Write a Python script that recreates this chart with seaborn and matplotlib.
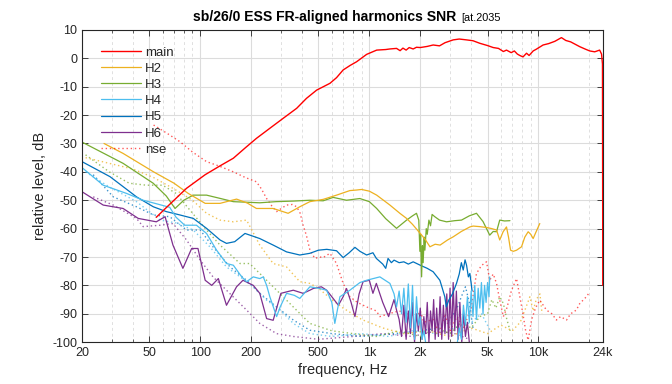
import numpy as np
import pandas as pd
import matplotlib
matplotlib.use("Agg")
import matplotlib.pyplot as plt
import seaborn as sns
from matplotlib.ticker import FixedLocator, NullFormatter

# ---------------- data (frequency Hz, level dB) ----------------
MAIN = [(55,-56),(62,-53),(70,-50),(83,-45.8),(107,-41),(130,-38),(157,-35.2),(185,-31.5),
        (215,-28.2),(260,-24.5),(310,-21.1),(372,-17.6),(425,-14.1),(488,-11.2),(585,-8.8),
        (640,-6.8),(700,-4.1),(770,-2.5),(841,-1.2),(964,1.4),(1105,2.9),(1250,3.1),(1322,3.3),
        (1448,3.5),(1520,2.7),(1580,3.6),(1650,2.9),(1720,3.8),(1816,3.3),(1900,3.9),(2000,3.8),
        (2200,4.2),(2384,4.7),(2600,4.4),(2800,5.5),(3130,6.5),(3400,6.8),(3756,6.5),(4100,6.2),
        (4500,5.3),(5000,4.5),(5400,3.8),(5800,3.5),(6200,2.4),(6470,2.9),(6900,2.0),(7200,2.6),
        (7500,1.5),(7760,1.0),(8100,0.5),(8500,1.8),(8800,1.0),(9300,2.6),(9700,3.2),(10650,4.7),
        (11500,5.2),(12500,6.0),(13670,7.3),(14500,6.3),(15500,5.8),(17550,4.1),(19000,3.2),
        (20100,2.6),(21500,2.3),(23000,2.9),(23600,1.5),(23900,-2),(24000,-80)]

H2 = [(27,-30),(35,-33.5),(53,-40),(70,-44),(85,-47.6),(107,-51.1),(131,-51.1),(164,-49.6),
      (190,-51),(215,-52.9),(270,-52.9),(331,-54.6),(388,-52.3),(445,-50.5),(533,-49.7),
      (640,-48.2),(767,-46.6),(841,-46.4),(900,-46.2),(1000,-46.8),(1105,-48.2),(1323,-51.7),
      (1515,-54.6),(1660,-56.4),(1800,-58.5),(2000,-61.7),(2150,-64),(2282,-66.4),(2450,-65.5),
      (2620,-65.8),(2900,-64),(3130,-62.9),(3500,-61),(3930,-59.4),(4110,-59.1),(4500,-59.3),
      (4930,-59.6),(5300,-60),(5650,-60.5),(5900,-64),(6180,-61.1),(6470,-59.4),(6650,-63),
      (6840,-67.6),(7100,-68),(7420,-67.6),(7940,-66.4),(8300,-63),(8690,-61.1),(9000,-62),
      (9300,-63.5),(9700,-61),(10180,-58.2)]

H3 = [(20,-29.5),(35,-37),(52.7,-44),(63,-48.5),(71,-52.9),(80,-50),(91,-48.2),(109,-48.2),
      (130,-49.3),(157,-50.5),(225,-50.9),(280,-50.5),(355,-50.3),(445,-50),(533,-50.2),
      (611,-49),(733,-50),(879,-49.4),(1000,-50.5),(1105,-52.9),(1250,-56.5),(1448,-59.9),
      (1660,-57),(1800,-55.5),(1900,-54.6),(1960,-57),(1990,-68),(2010,-62),(2037,-77),
      (2060,-66),(2080,-72),(2110,-63),(2130,-67.6),(2170,-60),(2200,-62),(2250,-57),(2300,-59),
      (2350,-55),(2437,-55.8),(2600,-57),(2860,-57.6),(3200,-57.2),(3505,-57),(3900,-55.5),
      (4300,-54.6),(4700,-57.5),(5150,-62.3),(5400,-61),(5650,-61.1),(5900,-57),(6300,-57.3),
      (6780,-57.2)]

H4 = [(20,-38.5),(26.7,-44.7),(36.7,-47.6),(46,-50),(54,-51.1),(66,-52.5),(72,-56),(81,-58.8),
      (95,-58.8),(109,-61.7),(125,-67.6),(143,-72.3),(157,-72.9),(176,-77),(188,-78.7),(206,-77),
      (225,-77.6),(236,-77),(247,-80),(258,-84),(283,-91),(297,-87.6),(324,-82.8),(360,-83.5),
      (388,-84.6),(445,-80.5),(500,-81),(559,-81.7),(600,-86),(625,-93.4),(670,-84),(767,-81.7),
      (880,-79),(964,-78.2),(1154,-77),(1323,-79.3),(1400,-83),(1448,-87.6),(1500,-82),(1550,-90),
      (1600,-81),(1650,-93),(1700,-79.5),(1750,-95),(1800,-80),(1850,-99),(1900,-84),(1950,-94),
      (2000,-91),(2050,-99),(2100,-96),(2200,-104),(2400,-106),(2700,-103),(3000,-106),
      (3300,-101),(3400,-95),(3500,-99),(3600,-87),(3700,-94),(3800,-84),(3900,-93),(4000,-82),
      (4100,-91),(4200,-80),(4300,-92),(4400,-81),(4500,-88),(4600,-79),(4700,-90),(4800,-80),
      (4900,-86),(5000,-79),(5100,-84),(5150,-77)]

H5 = [(20,-36.4),(29.3,-41.7),(42,-48.8),(52.8,-52.3),(63,-54),(76,-55.2),(91,-56.4),(109,-59.9),
      (131,-64),(143,-65.2),(160,-64.6),(184,-61.7),(225,-63.5),(270,-65.8),(324,-68.2),
      (388,-69.3),(445,-68.7),(500,-67.6),(560,-67.3),(640,-67.8),(700,-70.2),(760,-68.5),
      (822,-66.6),(880,-68),(964,-69.3),(1050,-68.5),(1100,-70.5),(1200,-72.5),(1250,-74),
      (1290,-70.5),(1350,-72),(1400,-71.1),(1500,-72),(1600,-71.7),(1700,-72.5),(1816,-71.7),
      (2000,-72.9),(2200,-74),(2384,-75.2),(2612,-78.2),(2700,-81),(2794,-84),(2850,-87.6),
      (2950,-85.2),(3100,-83),(3276,-79.3),(3400,-76),(3500,-72),(3590,-74.6),(3680,-71),
      (3756,-72.9),(3850,-77),(3930,-75.8),(4000,-79.3),(4050,-82)]

H6 = [(20,-47),(26.7,-51.7),(35,-52.9),(43,-56.4),(55,-57.6),(62,-55.8),(69,-65.8),(79,-74),
      (89,-67),(97,-67),(107,-78.2),(117,-80),(128,-77.6),(143,-87),(164,-80.5),(179,-78.2),
      (206,-80),(225,-82.8),(247,-91.7),(270,-92.3),(300,-82.8),(355,-81.7),(406,-82.8),
      (445,-81.7),(466,-81.1),(520,-80.5),(559,-81.7),(600,-84),(656,-87),(700,-84),(733,-81.1),
      (780,-86),(822,-91),(870,-83),(918,-78.7),(1000,-78.2),(1050,-82.8),(1100,-79.3),
      (1200,-86),(1300,-91),(1400,-85),(1448,-88.7),(1500,-92),(1550,-98),(1600,-87),(1650,-99),
      (1700,-89),(1750,-97),(1800,-86),(1850,-100),(1900,-90),(1950,-96),(2000,-88),(2050,-99),
      (2100,-91),(2150,-97),(2200,-86),(2250,-100),(2300,-89),(2350,-96),(2400,-85),(2450,-99),
      (2500,-88),(2560,-98),(2620,-84),(2680,-99),(2740,-87),(2800,-97),(2870,-83),(2940,-99),
      (3000,-81),(3070,-98),(3130,-79),(3200,-96),(3270,-82),(3350,-99),(3430,-86),(3520,-100),
      (3600,-90),(3700,-98),(3800,-93),(3900,-100)]

NSE = [(53,-23.5),(64,-26.5),(76,-29.4),(90,-33),(109,-36.4),(130,-38),(157,-40),(185,-42),
       (215,-43.5),(230,-46),(247,-49.4),(265,-52),(283,-54),(300,-53),(324,-51.7),(350,-51.5),
       (372,-52.3),(390,-54.6),(406,-58.8),(425,-62.5),(445,-67.5),(476,-70.5),(510,-70),
       (533,-70.2),(585,-68.7),(640,-72.3),(700,-79.3),(767,-84),(850,-86),(964,-87.6),
       (1100,-89),(1154,-91),(1300,-90),(1500,-89),(1700,-90),(1900,-91),(2000,-89),(2100,-93),
       (2384,-92),(2600,-97),(2800,-90),(3000,-96),(3300,-91),(3600,-95),(4000,-88),(4300,-75.8),
       (4600,-73),(4930,-71.7),(5150,-78.2),(5400,-76),(5650,-79.3),(5900,-85.2),(6200,-91),
       (6500,-88),(6930,-81.7),(7420,-77.6),(7760,-84),(8090,-90),(8400,-96),(8690,-99.3),
       (9100,-92.2),(9600,-88),(10180,-85.2),(11150,-88.7),(12000,-90),(12770,-92.2),
       (13500,-91),(14650,-92.2),(15500,-90),(16740,-88.7),(17500,-86.5),(18350,-85.2),
       (19200,-84),(20100,-82.3)]

H2_NSE = [(21,-35),(29,-37),(40,-39),(53,-42),(70,-46),(90,-50),(109,-54.6),(131,-57),(157,-57.6),
          (188,-57),(225,-65.8),(270,-72.3),(324,-73.5),(388,-78.7),(445,-79.3),(500,-81),
          (600,-85),(700,-88),(900,-92),(1200,-95),(1600,-97),(2200,-96),(3000,-98),(4000,-95),
          (5000,-97),(6000,-94),(7000,-96),(7800,-93),(8400,-88),(8900,-84),(9300,-89),
          (9700,-85),(10200,-83),(10500,-90)]
H3_NSE = [(21,-34),(29,-40),(38,-44),(48,-44.7),(60,-44.7),(72,-47.6),(87,-53.5),(109,-60.5),
          (131,-65.8),(172,-72.3),(196,-72.3),(225,-75.8),(283,-81.7),(355,-87.6),(445,-93.4),
          (600,-96),(800,-97),(1100,-98),(1500,-96),(2000,-98),(2500,-95),(3000,-97),(3500,-93),
          (4000,-95),(4500,-91),(5000,-90),(5300,-85),(5600,-88),(5900,-84),(6200,-86.4),
          (6500,-92),(6800,-96)]
H4_NSE = [(21,-40),(29,-45.3),(42,-50.5),(58,-57),(72,-58),(91,-60.5),(114,-66.4),(143,-73.5),
          (172,-77),(206,-80.5),(247,-85.2),(297,-88.7),(355,-93.4),(445,-97),(600,-98),
          (900,-97),(1300,-98),(1800,-96),(2500,-97),(3200,-95),(4000,-93),(4600,-90),(5200,-96)]
H5_NSE = [(23.3,-41),(30.6,-48.8),(42,-52.3),(53,-55.2),(66,-55.8),(83,-60.5),(100,-60.5),
          (119,-66.4),(150,-73.5),(188,-78.2),(225,-82.8),(283,-87.6),(355,-92.2),(445,-95.8),
          (600,-97),(900,-98),(1400,-97),(2000,-96),(2600,-95),(3000,-92),(3300,-88),(3500,-84),
          (3700,-80.5),(3900,-86),(4100,-95)]
H6_NSE = [(23.3,-48.8),(30.6,-51.7),(42,-56.4),(46,-59.3),(58,-58.8),(69,-58.2),(83,-64),
          (100,-71.1),(119,-77),(143,-81.7),(188,-88.7),(225,-93.4),(283,-97),(355,-98),
          (500,-99),(800,-98),(1200,-97),(1800,-98),(2500,-96),(3200,-97),(3900,-99)]

LABELS = ["main", "H2", "H3", "H4", "H5", "H6", "nse"]
XTICKS = [20, 50, 100, 200, 500, 1000, 2000, 5000, 10000, 24000]
XTICKLABELS = ["20", "50", "100", "200", "500", "1k", "2k", "5k", "10k", "24k"]
YTICKS = list(range(-100, 11, 10))

C_MAIN = "#ff0000"
C_H2 = "#EDB120"
C_H3 = "#77AC30"
C_H4 = "#4DBEEE"
C_H5 = "#0072BD"
C_H6 = "#7E2F8E"

# ---------------- figure ----------------
sns.set_theme(style="white")
plt.rcParams["font.family"] = ["Liberation Sans", "DejaVu Sans"]
plt.rcParams["axes.unicode_minus"] = False

fig = plt.figure(figsize=(6.72, 3.84), dpi=100)
ax = fig.add_axes([0.122, 0.109, 0.775, 0.813])
ax.set_xscale("log")


def draw(pairs, color, ls="-", lw=0.9, alpha=1.0, z=2):
    df = pd.DataFrame(pairs, columns=["f", "db"])
    sns.lineplot(data=df, x="f", y="db", ax=ax, color=color, linestyle=ls, linewidth=lw,
                 alpha=alpha, estimator=None, sort=False, zorder=z, legend=False)
    return ax.lines[-1]


dot = (0, (1, 2))
draw(H6_NSE, C_H6, dot, 1.0, 0.75, 1)
draw(H5_NSE, C_H5, dot, 1.0, 0.75, 1)
draw(H4_NSE, C_H4, dot, 1.0, 0.75, 1)
draw(H3_NSE, C_H3, dot, 1.0, 0.75, 1)
draw(H2_NSE, C_H2, dot, 1.0, 0.75, 1)
l_nse = draw(NSE, C_MAIN, dot, 1.0, 0.65, 1)
l6 = draw(H6, C_H6)
l5 = draw(H5, C_H5)
l4 = draw(H4, C_H4)
l3 = draw(H3, C_H3)
l2 = draw(H2, C_H2)
l_main = draw(MAIN, C_MAIN, "-", 1.0, 1.0, 3)

ax.set_xlim(20, 24000)
ax.set_ylim(-100, 10)
ax.xaxis.set_major_locator(FixedLocator(XTICKS))
ax.set_xticklabels(XTICKLABELS)
minors = [m * d for d in (10, 100, 1000, 10000) for m in range(2, 10)]
minors = [v for v in minors if 20 < v < 24000 and v not in XTICKS]
ax.xaxis.set_minor_locator(FixedLocator(minors))
ax.xaxis.set_minor_formatter(NullFormatter())
ax.set_yticks(YTICKS)

ax.grid(True, which="major", axis="both", color="#dcdcdc", linestyle="-", linewidth=0.8)
ax.grid(True, which="minor", axis="x", color="#e0e0e0", linestyle=(0, (3, 3)), linewidth=0.7)
ax.set_axisbelow(True)

for s in ax.spines.values():
    s.set_visible(True)
    s.set_color("#262626")
    s.set_linewidth(0.8)
ax.tick_params(which="both", direction="in", top=True, right=True, bottom=True, left=True,
               colors="#262626", labelsize=9, labelcolor="#262626")
ax.tick_params(which="major", length=4, width=0.6)
ax.tick_params(which="minor", length=2, width=0.5)

ax.set_xlabel("frequency, Hz", fontsize=10.5, color="#262626", labelpad=3)
ax.set_ylabel("relative level, dB", fontsize=10.5, color="#262626", labelpad=4)

fig.text(0.679, 0.955, "sb/26/0 ESS FR-aligned harmonics SNR", ha="right", va="center",
         fontsize=10.1, fontweight="bold", color="#000000")
fig.text(0.687, 0.952, "[at.2035", ha="left", va="center", fontsize=7.8, color="#000000")

leg = ax.legend([l_main, l2, l3, l4, l5, l6, l_nse], LABELS, loc="upper left",
                bbox_to_anchor=(0.022, 0.973), frameon=False, fontsize=9.5,
                handlelength=3.0, handletextpad=0.3, labelspacing=0.3, borderaxespad=0.2)
for t in leg.get_texts():
    t.set_color("#262626")

fig.savefig("out.png", dpi=100)
